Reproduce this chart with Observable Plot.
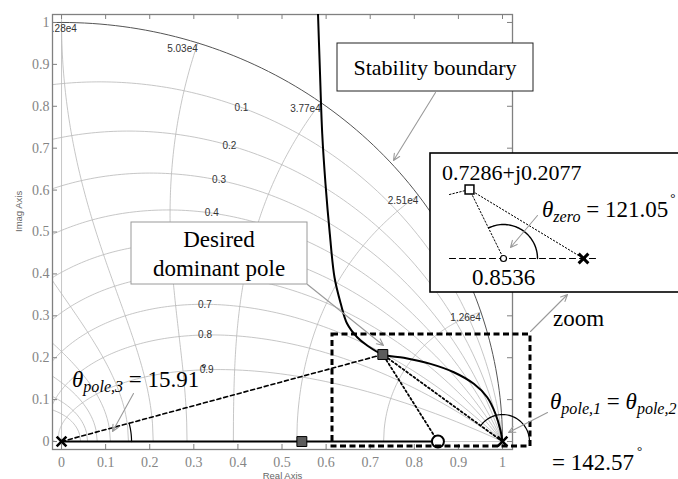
<!DOCTYPE html>
<html><head><meta charset="utf-8">
<script src="https://cdn.jsdelivr.net/npm/d3@7"></script>
<script src="https://cdn.jsdelivr.net/npm/@observablehq/plot@0.6"></script>
<style>
html,body{margin:0;padding:0;background:#fff;}
#chart{width:678px;height:479px;}
</style></head><body><div id="chart"></div>
<script>
// ---------- data ----------
const xTicks = [0,0.1,0.2,0.3,0.4,0.5,0.6,0.7,0.8,0.9,1];
const xTickLabels = ["0","0.1","0.2","0.3","0.4","0.5","0.6","0.7","0.8","0.9","1"];
const yTicks = [0,0.1,0.2,0.3,0.4,0.5,0.6,0.7,0.8,0.9,1];
const yTickLabels = ["0","0.1","0.2","0.3","0.4","0.5","0.6","0.7","0.8","0.9","1"];
const zetas = [0.1,0.2,0.3,0.4,0.5,0.6,0.7,0.8,0.9];
// labels visible in the reference (0.5 and 0.6 are hidden under the "Desired dominant pole" box)
const zetaLabelValues = [0.1,0.2,0.3,0.4,0.7,0.8,0.9];
const zetaLabels = ["0.1","0.2","0.3","0.4","0.7","0.8","0.9"];
const zetaLabelAngleDeg = [62.9,61.7,60.2,58,45.2,38,27.5];
const wnSteps = [1,2,3,4,5,6,7,8,9,10];           // wnT = k*pi/10
const wnLabels = ["1.26e4","2.51e4","3.77e4","5.03e4","6.28e4"];
const olPolesX = [0, 1];                           // open-loop poles (x)
const olPolesY = [0, 0];
const zeroX = 0.8536;
const domPole = [0.7286, 0.2077];
const thirdPole = [0.545, 0];
const locusX = [1.0, 0.9955, 0.9841, 0.9653, 0.9349, 0.8896, 0.8367, 0.7762, 0.7286, 0.6932, 0.6705, 0.6478, 0.6330, 0.6190, 0.6084, 0.5986, 0.5912, 0.5857, 0.5810];
const locusY = [0.0, 0.0263, 0.0661, 0.1057, 0.1377, 0.1654, 0.1854, 0.1998, 0.2077, 0.2291, 0.2489, 0.2809, 0.3300, 0.3921, 0.4957, 0.6150, 0.7344, 0.8933, 1.0400];

// ---------- layout ----------
const W=678,H=479, mL=52,mR=166,mT=14,mB=30;
const xDom=[-0.0205,1.0227], yDom=[-0.019,1.019];
const kx=(W-mL-mR)/(xDom[1]-xDom[0]), ky=(H-mT-mB)/(yDom[1]-yDom[0]);
const PX = p => xDom[0] + (p-mL)/kx;
const PY = p => yDom[1] - (p-mT)/ky;

// ---------- grid geometry (zgrid) ----------
const gridLines = [];
zetas.forEach((z,i)=>{
  for(let j=0;j<=240;j++){const t=Math.PI*j/240; const r=Math.exp(-z*t/Math.sqrt(1-z*z)); gridLines.push({g:"z"+i,x:r*Math.cos(t),y:r*Math.sin(t)});}
});
wnSteps.forEach((k)=>{
  const w=k*Math.PI/10;
  for(let j=0;j<=120;j++){const z=j/120; const r=Math.exp(-z*w); const a=w*Math.sqrt(1-z*z); gridLines.push({g:"w"+k,x:r*Math.cos(a),y:r*Math.sin(a)});}
});
gridLines.push({g:"ax",x:0,y:0},{g:"ax",x:0,y:1.05});
gridLines.push({g:"ay",x:0,y:0},{g:"ay",x:1,y:0});
const unitCircle = d3.range(0,181).map(d=>({x:Math.cos(d*Math.PI/180),y:Math.sin(d*Math.PI/180)}));
const zLab = zetaLabelValues.map((z,i)=>{const t=zetaLabelAngleDeg[i]*Math.PI/180; const r=Math.exp(-z*t/Math.sqrt(1-z*z)); return {x:r*Math.cos(t),y:r*Math.sin(t),t:zetaLabels[i]};});
const wLab = wnLabels.map((s,i)=>{const a=(i+1)*Math.PI/10; return {x:Math.cos(a),y:Math.sin(a),t:s,k:i+1};});
const wLabEnd = wLab.filter(d=>d.k<5), wLabMid = wLab.filter(d=>d.k===5);

const locus = locusX.map((x,i)=>({x,y:locusY[i]}));
const realSeg = [{x:olPolesX[0],y:0},{x:zeroX,y:0}];
const line0 = [{x:olPolesX[0],y:olPolesY[0]},{x:domPole[0],y:domPole[1]}];
const dotted = [
  {g:"a",x:zeroX,y:0},{g:"a",x:domPole[0],y:domPole[1]},
  {g:"b",x:olPolesX[1],y:olPolesY[1]},{g:"b",x:domPole[0],y:domPole[1]}
];
function arcData(cx,cy,rpx,a0,a1){return d3.range(0,41).map(i=>{const a=a0+(a1-a0)*i/40; return {x:cx+rpx*Math.cos(a)/kx,y:cy+rpx*Math.sin(a)/ky};});}
const ang3 = Math.atan2(domPole[1]*ky, domPole[0]*kx);
const ang1 = Math.atan2(domPole[1]*ky, (domPole[0]-olPolesX[1])*kx);
const arc3 = arcData(0,0,70,0,ang3);
const arc1 = arcData(1,0,27,0,ang1);
const insetArc = d3.range(0,41).map(i=>{const a=(116*Math.PI/180)*i/40; return {x:PX(503+34*Math.cos(a)),y:PY(258-34*Math.sin(a))};});

// annotation boxes (pixel layout)
const boxes = [
  {x1:PX(131),x2:PX(307),y1:PY(222),y2:PY(284),s:"#9a9a9a",w:1},
  {x1:PX(337),x2:PX(533),y1:PY(43),y2:PY(91),s:"#222",w:1},
  {x1:PX(430),x2:PX(700),y1:PY(153),y2:PY(292),s:"#000",w:1.6}
];
const zoomRect = [{x1:PX(332),x2:PX(530),y1:PY(334),y2:PY(446)}];
const arrows = [
  [435,92,393,160],[307,284,383,345],[133,393,112,431],
  [537,215,510,247],[530,331,567,294],[547,412,508,432]
].map(a=>({x1:PX(a[0]),y1:PY(a[1]),x2:PX(a[2]),y2:PY(a[3])}));
const insetDash = [{x:PX(449),y:PY(258)},{x:PX(598),y:PY(258)}];
const insetDots = [
  {g:"l",x:PX(449),y:PY(194)},{g:"l",x:PX(465),y:PY(190)},
  {g:"a",x:PX(469),y:PY(189)},{g:"a",x:PX(503),y:PY(258)},
  {g:"b",x:PX(469),y:PY(189)},{g:"b",x:PX(583),y:PY(258)}
];

const serif = "'Liberation Serif','Times New Roman',serif";
const sans = "'Liberation Sans',Arial,sans-serif";
const tickLen = 5;

const plot = Plot.plot({
  width:W, height:H, marginLeft:mL, marginRight:mR, marginTop:mT, marginBottom:mB,
  x:{domain:xDom, axis:null}, y:{domain:yDom, axis:null},
  style:{background:"white", overflow:"visible"},
  marks:[
    Plot.line(gridLines,{x:"x",y:"y",z:"g",stroke:"#b8b8b8",strokeWidth:0.8,clip:true}),
    Plot.line(unitCircle,{x:"x",y:"y",stroke:"#555",strokeWidth:1,clip:true}),
    Plot.text(zLab,{x:"x",y:"y",text:"t",fontSize:10,fontFamily:sans,fill:"#333",clip:true}),
    Plot.text(wLabEnd,{x:"x",y:"y",text:"t",textAnchor:"end",fontSize:10,fontFamily:sans,fill:"#333",dy:6,clip:true}),
    Plot.text(wLabMid,{x:"x",y:"y",text:"t",textAnchor:"middle",fontSize:10,fontFamily:sans,fill:"#333",dy:6,clip:true}),
    // frame & ticks
    Plot.frame({stroke:"#808080",strokeWidth:1.3}),
    Plot.ruleX(xTicks,{x:d=>d,y1:yDom[0],y2:yDom[0]+tickLen/ky,stroke:"#808080"}),
    Plot.ruleX(xTicks,{x:d=>d,y1:yDom[1],y2:yDom[1]-tickLen/ky,stroke:"#808080"}),
    Plot.ruleY(yTicks,{y:d=>d,x1:xDom[0],x2:xDom[0]+tickLen/kx,stroke:"#808080"}),
    Plot.ruleY(yTicks,{y:d=>d,x1:xDom[1],x2:xDom[1]-tickLen/kx,stroke:"#808080"}),
    Plot.text(xTicks,{x:d=>d,text:(d,i)=>xTickLabels[i],frameAnchor:"bottom",dy:13,lineAnchor:"middle",fontSize:14,fontFamily:serif,fill:"#858585"}),
    Plot.text(yTicks,{y:d=>d,text:(d,i)=>yTickLabels[i],frameAnchor:"left",dx:-3,textAnchor:"end",fontSize:14,fontFamily:serif,fill:"#858585"}),
    Plot.text(["Real Axis"],{frameAnchor:"bottom",dy:26,lineAnchor:"middle",fontSize:9.5,fontFamily:sans,fill:"#666"}),
    Plot.text(["Imag Axis"],{frameAnchor:"left",dx:-34,rotate:-90,fontSize:9.5,fontFamily:sans,fill:"#666"}),
    // boxes
    Plot.rect(boxes,{x1:"x1",x2:"x2",y1:"y1",y2:"y2",fill:"white",stroke:d=>d.s,strokeWidth:d=>d.w,clip:false}),
    // locus
    Plot.line(realSeg,{x:"x",y:"y",stroke:"black",strokeWidth:2}),
    Plot.line(locus,{x:"x",y:"y",stroke:"black",strokeWidth:2,curve:"catmull-rom",clip:true}),
    Plot.line(line0,{x:"x",y:"y",stroke:"black",strokeWidth:1.6,strokeDasharray:"4,3"}),
    Plot.line(dotted,{x:"x",y:"y",z:"g",stroke:"black",strokeWidth:1.8,strokeDasharray:"2,2.5"}),
    Plot.line(arc3,{x:"x",y:"y",stroke:"black",strokeWidth:1.2}),
    Plot.line(arc1,{x:"x",y:"y",stroke:"black",strokeWidth:1.2,clip:false}),
    Plot.dot([thirdPole,domPole],{x:d=>d[0],y:d=>d[1],symbol:"square",r:5.6,fill:"#5c5c5c",stroke:"black",strokeWidth:1}),
    Plot.dot([zeroX],{x:d=>d,y:0,r:6,fill:"white",stroke:"black",strokeWidth:2}),
    Plot.dot(olPolesX,{x:d=>d,y:(d,i)=>olPolesY[i],symbol:"times",r:4.5,stroke:"black",strokeWidth:2.6}),
    Plot.rect(zoomRect,{x1:"x1",x2:"x2",y1:"y1",y2:"y2",fill:"none",stroke:"black",strokeWidth:3,strokeDasharray:"6,3.5",clip:false}),
    // inset schematic
    Plot.line(insetDash,{x:"x",y:"y",stroke:"black",strokeWidth:1.2,strokeDasharray:"6,4",clip:false}),
    Plot.line(insetDots,{x:"x",y:"y",z:"g",stroke:"black",strokeWidth:1,strokeDasharray:"1.5,2",clip:false}),
    Plot.line(insetArc,{x:"x",y:"y",stroke:"black",strokeWidth:1.4,clip:false}),
    Plot.dot([{x:PX(469),y:PY(189)}],{x:"x",y:"y",symbol:"square",r:5,fill:"white",stroke:"black",strokeWidth:1.5,clip:false}),
    Plot.dot([{x:PX(503),y:PY(258)}],{x:"x",y:"y",r:3,fill:"white",stroke:"black",strokeWidth:1.2,clip:false}),
    Plot.dot([{x:PX(583),y:PY(258)}],{x:"x",y:"y",symbol:"times",r:4.5,stroke:"black",strokeWidth:3,clip:false}),
    // arrows
    Plot.arrow(arrows,{x1:"x1",y1:"y1",x2:"x2",y2:"y2",stroke:"#9a9a9a",strokeWidth:1.1,headLength:10,headAngle:50,clip:false})
  ]
});
document.getElementById("chart").appendChild(plot);

// rich annotation text
const svg = d3.select(plot);
const g = svg.append("g").attr("font-family",serif).attr("fill","black").attr("text-anchor","start");
function plain(x,y,s,size,anchor){g.append("text").attr("x",x).attr("y",y).attr("font-size",size).attr("text-anchor",anchor||"start").text(s);}
plain(435,75,"Stability boundary",22,"middle");
plain(219,247,"Desired",23,"middle");
plain(219,276,"dominant pole",23,"middle");
plain(442,180,"0.7286+j0.2077",22);
plain(472,285,"0.8536",23);
plain(553,326,"zoom",23);
function theta(x,y,sub,size){
  const t=g.append("text").attr("x",x).attr("y",y).attr("font-size",size).attr("text-anchor","start");
  t.append("tspan").attr("font-style","italic").text("θ");
  t.append("tspan").attr("font-style","italic").attr("font-size",size*0.7).attr("dy",5).text(sub);
  return t;
}
let t = theta(72,387,"pole,3",23);
t.append("tspan").attr("dy",-5).text(" = 15.91");
t.append("tspan").attr("font-size",13).attr("dy",-15).attr("dx",2).text("°");
t = theta(542,217,"zero",23);
t.append("tspan").attr("dy",-5).text(" = 121.05");
t.append("tspan").attr("font-size",13).attr("dy",-15).attr("dx",2).text("°");
t = theta(550,409,"pole,1",23);
t.append("tspan").attr("dy",-5).text(" = ");
t.append("tspan").attr("font-style","italic").text("θ");
t.append("tspan").attr("font-style","italic").attr("font-size",16).attr("dy",5).text("pole,2");
const t2 = g.append("text").attr("x",552).attr("y",470).attr("font-size",23).attr("text-anchor","start");
t2.append("tspan").text("= 142.57");
t2.append("tspan").attr("font-size",13).attr("dy",-15).attr("dx",3).text("°");
</script></body></html>
